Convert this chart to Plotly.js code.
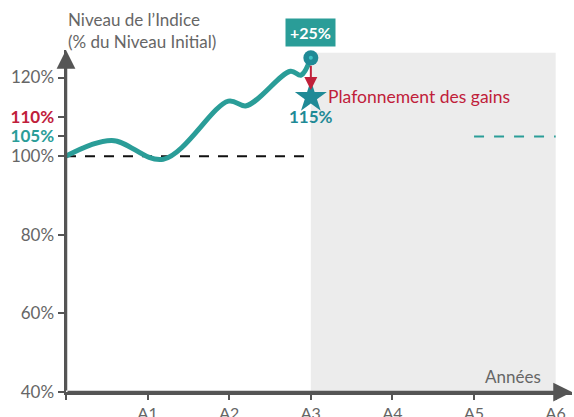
<!DOCTYPE html>
<html>
<head>
<meta charset="utf-8">
<script src="https://cdn.plot.ly/plotly-3.0.1.min.js"></script>
<style>html,body{margin:0;padding:0;background:#fff;}#chart{width:574px;height:417px;}</style>
</head>
<body>
<div id="chart"></div>
<script>
// Data
const curveX = [0, 0.56, 1.19, 1.99, 2.21, 2.75, 2.88, 3.0];
const curveY = [100, 104, 99.2, 114, 112.8, 121.6, 120.6, 125];
const initialLevel = 100;
const finalLevel = 125;
const capLevel = 115;
const barrierLevel = 105;
const capTickLevel = 110;
const xTickVals = [0, 1, 2, 3, 4, 5, 6];
const xTickText = ['', 'A1', 'A2', 'A3', 'A4', 'A5', 'A6'];
const yTickVals = [40, 60, 80, 100, 105, 110, 120];
const yTickText = ['40%', '60%', '80%', '100%', '105%', '110%', '120%'];
const shadeX = [3, 6];
const shadeTop = 126.3;
const refLineX = [0, 3];
const barrierX = [5, 6];

const TEAL = '#2a9d98';
const TEAL_DARK = '#1f8a96';
const RED = '#c0203a';
const GREY = '#666666';
const AXIS = '#555555';
const FONT = 'Lato, "Open Sans", sans-serif';

const yTickStyled = yTickText.map((t, i) => {
  if (yTickVals[i] === capTickLevel) return '<b><span style="color:' + RED + '">' + t + '</span></b>';
  if (yTickVals[i] === barrierLevel) return '<b><span style="color:' + TEAL + '">' + t + '</span></b>';
  return t;
});

const traces = [
  { x: refLineX, y: [initialLevel, initialLevel], mode: 'lines', line: {color: '#111', width: 2, dash: '10px,9px'}, hoverinfo: 'skip' },
  { x: barrierX, y: [barrierLevel, barrierLevel], mode: 'lines', line: {color: TEAL, width: 2, dash: '10px,10px'}, hoverinfo: 'skip' },
  { x: curveX, y: curveY, mode: 'lines', line: {color: TEAL, width: 5, shape: 'spline', smoothing: 1}, hoverinfo: 'skip' },
  { x: [3], y: [finalLevel], mode: 'markers', marker: {symbol: 'circle', size: 15, color: TEAL_DARK}, hoverinfo: 'skip' },
  { x: [3], y: [finalLevel], mode: 'markers', marker: {symbol: 'circle', size: 4, color: '#3fc3c8'}, hoverinfo: 'skip' },
  { x: [3], y: [capLevel], mode: 'markers', marker: {symbol: 'star', size: 24, color: TEAL_DARK}, hoverinfo: 'skip' }
];

const layout = {
  width: 574, height: 417,
  margin: {l: 66, r: 2, t: 50, b: 25},
  paper_bgcolor: '#fff', plot_bgcolor: '#fff',
  showlegend: false,
  font: {family: FONT, color: GREY, size: 17},
  xaxis: {
    range: [0, 6.2], showgrid: false, zeroline: false,
    showline: true, linecolor: AXIS, linewidth: 2.5,
    tickvals: xTickVals, ticktext: xTickText,
    ticks: 'outside', ticklen: 5, tickwidth: 2, tickcolor: AXIS,
    tickfont: {family: FONT, size: 16, color: GREY}
  },
  yaxis: {
    range: [40, 127], showgrid: false, zeroline: false,
    showline: true, linecolor: AXIS, linewidth: 2.5,
    tickvals: yTickVals, ticktext: yTickStyled,
    ticks: 'outside', ticklen: 6, tickwidth: 2, tickcolor: AXIS,
    tickfont: {family: FONT, size: 17, color: GREY}
  },
  shapes: [
    { type: 'rect', xref: 'x', yref: 'y', x0: shadeX[0], x1: shadeX[1], y0: 40, y1: shadeTop, fillcolor: '#ececec', line: {width: 0}, layer: 'below' }
  ],
  annotations: [
    // axis arrows
    { x: 0, y: 127, ax: 0, ay: 40, xref: 'x', yref: 'y', axref: 'x', ayref: 'y', text: '', showarrow: true, arrowhead: 2, arrowsize: 1.5, arrowwidth: 2.5, arrowcolor: AXIS },
    { x: 6.2, y: 40, ax: 0, ay: 40, xref: 'x', yref: 'y', axref: 'x', ayref: 'y', text: '', showarrow: true, arrowhead: 2, arrowsize: 1.5, arrowwidth: 2.5, arrowcolor: AXIS },
    // cap arrow
    { x: 3, y: 116.8, ax: 3, ay: 123.4, xref: 'x', yref: 'y', axref: 'x', ayref: 'y', text: '', showarrow: true, arrowhead: 2, arrowsize: 1.3, arrowwidth: 2, arrowcolor: RED },
    // texts
    { x: 0, y: 1.125, xref: 'x', yref: 'paper', xanchor: 'left', yanchor: 'top', align: 'left', showarrow: false,
      text: 'Niveau de l’Indice<br>(% du Niveau Initial)', font: {family: FONT, size: 17, color: GREY} },
    { x: 3, y: 1.0526, xref: 'x', yref: 'paper', xanchor: 'center', yanchor: 'middle', showarrow: false, text: '<b>+25%</b>',
      bgcolor: TEAL, borderpad: 4, font: {family: FONT, size: 16, color: '#fff'} },
    { x: 3, y: capLevel, xref: 'x', yref: 'y', showarrow: false, yshift: -19, text: '<b>115%</b>', font: {family: FONT, size: 17, color: TEAL_DARK} },
    { x: 3, y: capLevel, xref: 'x', yref: 'y', xanchor: 'left', xshift: 15, yshift: 1, showarrow: false, text: 'Plafonnement des gains', font: {family: FONT, size: 17.5, color: RED} },
    { x: 5.85, y: 44, xref: 'x', yref: 'y', xanchor: 'right', showarrow: false, text: 'Années', font: {family: FONT, size: 17, color: GREY} }
  ]
};

Plotly.newPlot('chart', traces, layout, {displayModeBar: false, staticPlot: true});
</script>
</body>
</html>
